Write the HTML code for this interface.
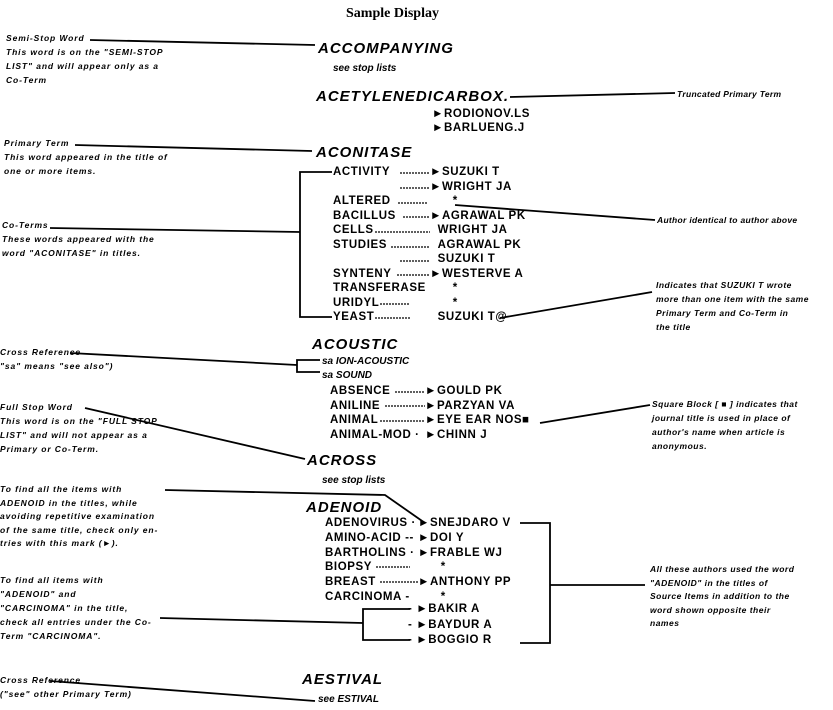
<!DOCTYPE html>
<html><head><meta charset="utf-8"><style>
body{margin:0;width:833px;height:710px;background:#fff;position:relative;overflow:hidden;font-family:"Liberation Sans",sans-serif;color:#000}
.t{position:absolute;white-space:nowrap}
.n{position:absolute;font-size:8.5px;font-style:italic;font-weight:bold;line-height:14px;white-space:nowrap;letter-spacing:0.9px}
.h{position:absolute;font-size:15px;font-weight:bold;font-style:italic;letter-spacing:1px;white-space:nowrap;line-height:16px}
.s{position:absolute;font-size:10px;font-weight:bold;font-style:italic;white-space:nowrap;line-height:12px}
.c{position:absolute;font-size:11.5px;font-weight:bold;letter-spacing:0.6px;white-space:nowrap;line-height:14px}
svg{position:absolute;left:0;top:0}
</style></head><body>
<svg width="833" height="710" stroke="#000" fill="none" stroke-width="1.8">
<line x1="90" y1="40" x2="315" y2="45"/>
<line x1="510" y1="97" x2="675" y2="93"/>
<line x1="75" y1="145" x2="312" y2="151"/>
<polyline points="332,172 300,172 300,317 332,317"/>
<line x1="50" y1="228" x2="300" y2="232"/>
<line x1="455" y1="205" x2="655" y2="220"/>
<line x1="500" y1="318" x2="652" y2="292"/>
<line x1="70" y1="353" x2="297" y2="365"/>
<polyline points="320,360 297,360 297,372 320,372"/>
<line x1="540" y1="423" x2="650" y2="405"/>
<line x1="85" y1="408" x2="305" y2="459"/>
<polyline points="165,490 385,495 425,523"/>
<polyline points="520,523 550,523 550,643 520,643"/>
<line x1="550" y1="585" x2="645" y2="585"/>
<polyline points="410,609 363,609 363,640 410,640"/>
<line x1="160" y1="618" x2="363" y2="623"/>
<line x1="50" y1="681" x2="315" y2="701"/>
<g stroke-width="1.2" stroke-dasharray="2,1">
<line x1="400" y1="173" x2="430" y2="173"/>
<line x1="400" y1="188" x2="430" y2="188"/>
<line x1="398" y1="203" x2="428" y2="203"/>
<line x1="403" y1="217" x2="430" y2="217"/>
<line x1="375" y1="232" x2="430" y2="232"/>
<line x1="391" y1="247" x2="430" y2="247"/>
<line x1="400" y1="261" x2="430" y2="261"/>
<line x1="397" y1="275" x2="430" y2="275"/>
<line x1="380" y1="304" x2="410" y2="304"/>
<line x1="375" y1="318" x2="410" y2="318"/>
<line x1="395" y1="392" x2="425" y2="392"/>
<line x1="385" y1="406" x2="425" y2="406"/>
<line x1="380" y1="421" x2="425" y2="421"/>
<line x1="376" y1="567" x2="410" y2="567"/>
<line x1="380" y1="582" x2="418" y2="582"/>
</g>
</svg>
<div class="t" style="left:346px;top:6px;font-family:'Liberation Serif',serif;font-weight:bold;font-size:14px">Sample Display</div>

<div class="n" style="left:6px;top:31px">Semi-Stop Word<br>This word is on the "SEMI-STOP<br>LIST" and will appear only as a<br>Co-Term</div>
<div class="h" style="left:318px;top:41px">ACCOMPANYING</div>
<div class="s" style="left:333px;top:63px">see stop lists</div>
<div class="h" style="left:316px;top:89px">ACETYLENEDICARBOX.</div>
<div class="n" style="left:677px;top:87px;letter-spacing:0.3px">Truncated Primary Term</div>
<div class="c" style="left:432px;top:107px">►RODIONOV.LS<br>►BARLUENG.J</div>

<div class="n" style="left:4px;top:136px">Primary Term<br>This word appeared in the title of<br>one or more items.</div>
<div class="h" style="left:316px;top:145px">ACONITASE</div>
<div class="c" style="left:333px;top:165px;line-height:14.5px">ACTIVITY<br>&nbsp;<br>ALTERED<br>BACILLUS<br>CELLS<br>STUDIES<br>&nbsp;<br>SYNTENY<br>TRANSFERASE<br>URIDYL<br>YEAST</div>
<div class="c" style="left:430px;top:165px;line-height:14.5px">►SUZUKI T<br>►WRIGHT JA<br>&nbsp;&nbsp;&nbsp;&nbsp;&nbsp;&nbsp;*<br>►AGRAWAL PK<br>&nbsp;&nbsp;WRIGHT JA<br>&nbsp;&nbsp;AGRAWAL PK<br>&nbsp;&nbsp;SUZUKI T<br>►WESTERVE A<br>&nbsp;&nbsp;&nbsp;&nbsp;&nbsp;&nbsp;*<br>&nbsp;&nbsp;&nbsp;&nbsp;&nbsp;&nbsp;*<br>&nbsp;&nbsp;SUZUKI T@</div>
<div class="n" style="left:2px;top:218px">Co-Terms<br>These words appeared with the<br>word "ACONITASE" in titles.</div>
<div class="n" style="left:657px;top:213px;letter-spacing:0.3px">Author identical to author above</div>
<div class="n" style="left:656px;top:278px;letter-spacing:0.5px">Indicates that SUZUKI T wrote<br>more than one item with the same<br>Primary Term and Co-Term in<br>the title</div>

<div class="n" style="left:0px;top:345px">Cross Reference<br>"sa" means "see also")</div>
<div class="h" style="left:312px;top:337px">ACOUSTIC</div>
<div class="s" style="left:322px;top:355px;line-height:14px">sa ION-ACOUSTIC<br>sa SOUND</div>
<div class="c" style="left:330px;top:384px;line-height:14.7px">ABSENCE<br>ANILINE<br>ANIMAL<br>ANIMAL-MOD ·</div>
<div class="c" style="left:425px;top:384px;line-height:14.7px">►GOULD PK<br>►PARZYAN VA<br>►EYE EAR NOS■<br>►CHINN J</div>
<div class="n" style="left:652px;top:397px;letter-spacing:0.5px">Square Block [ ■ ] indicates that<br>journal title is used in place of<br>author's name when article is<br>anonymous.</div>

<div class="n" style="left:0px;top:400px">Full Stop Word<br>This word is on the "FULL STOP<br>LIST" and will not appear as a<br>Primary or Co-Term.</div>
<div class="h" style="left:307px;top:453px">ACROSS</div>
<div class="s" style="left:322px;top:475px">see stop lists</div>

<div class="n" style="left:0px;top:483px;line-height:13.5px">To find all the items with<br>ADENOID in the titles, while<br>avoiding repetitive examination<br>of the same title, check only en-<br>tries with this mark (►).</div>
<div class="h" style="left:306px;top:500px">ADENOID</div>
<div class="c" style="left:325px;top:516px;line-height:14.8px">ADENOVIRUS ·<br>AMINO-ACID --<br>BARTHOLINS ·<br>BIOPSY<br>BREAST<br>CARCINOMA -</div>
<div class="c" style="left:418px;top:516px;line-height:14.8px">►SNEJDARO V<br>►DOI Y<br>►FRABLE WJ<br>&nbsp;&nbsp;&nbsp;&nbsp;&nbsp;&nbsp;*<br>►ANTHONY PP<br>&nbsp;&nbsp;&nbsp;&nbsp;&nbsp;&nbsp;*</div>
<div class="c" style="left:408px;top:602px;line-height:15.5px">- ►BAKIR A<br>- ►BAYDUR A<br>- ►BOGGIO R</div>
<div class="n" style="left:0px;top:573px">To find all items with<br>"ADENOID" and<br>"CARCINOMA" in the title,<br>check all entries under the Co-<br>Term "CARCINOMA".</div>
<div class="n" style="left:650px;top:563px;line-height:13.5px;letter-spacing:0.5px">All these authors used the word<br>"ADENOID" in the titles of<br>Source Items in addition to the<br>word shown opposite their<br>names</div>

<div class="n" style="left:0px;top:673px">Cross Reference<br>("see" other Primary Term)</div>
<div class="h" style="left:302px;top:672px">AESTIVAL</div>
<div class="s" style="left:318px;top:694px">see ESTIVAL</div>
</body></html>
